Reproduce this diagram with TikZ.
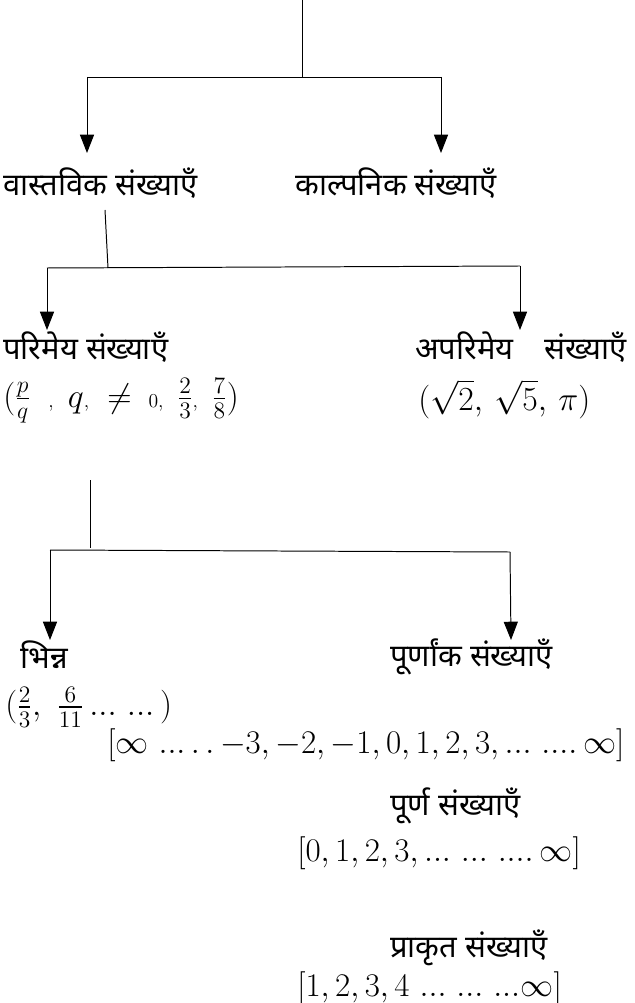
\RequirePackage{fix-cm}
\documentclass[tikz,border=0pt]{standalone}
\usepackage{amsmath}
\usepackage{fontspec}
\usetikzlibrary{arrows.meta}
\newfontfamily\hindi[Script=Devanagari]{Noto Sans}
\newcommand{\peq}[1]{{\fontsize{14}{16}\selectfont #1}}
\newcommand{\tres}{{.}{.}{.}}
\tikzset{
  rama/.style={draw=black,line width=0.7pt},
  flecha/.style={rama,-{Triangle[length=13pt,width=10pt]}},
  etiq/.style={font=\hindi\fontsize{22}{26}\selectfont,inner sep=0pt,anchor=west},
  mat/.style={font=\fontsize{23.5}{27}\selectfont,inner sep=0pt,anchor=west},
  matg/.style={mat,font=\fontsize{24}{28}\selectfont},
}
\begin{document}
\begin{tikzpicture}[x=0.025cm,y=-0.025cm]
\useasboundingbox (0,0) rectangle (635,1003);

\node[etiq] (real) at (3,183) {वास्तविक संख्याएँ};
\node[etiq] (imag) at (295,183) {काल्पनिक संख्याएँ};
\node[etiq] (rat) at (3,347) {परिमेय संख्याएँ};
\node[matg] (ratex) at (3,401)
  {$(\frac{p}{q}$\hspace{13pt}\peq{,}\hspace{10pt}$q$\peq{,}\hspace{13pt}$\neq$\hspace{12pt}\peq{0,}\hspace{10pt}$\frac{2}{3}$\peq{,}\hspace{10pt}$\frac{7}{8})$};
\node[etiq] (irr) at (415,347) {अपरिमेय\hspace{22pt}संख्याएँ};
\node[matg] (irrex) at (418,399) {$(\sqrt{2},\,\sqrt{5},\,\pi)$};
\node[etiq] (frac) at (20,655) {भिन्न};
\node[etiq] (int) at (390,657) {पूर्णांक संख्याएँ};
\node[matg] (fracex) at (5,707) {$(\frac{2}{3},\ \frac{6}{11}\,\tres\ \tres\,)$};
\node[mat] (intex) at (107,745)
  {$[\infty\ \tres\,.\,.\,{-3}, {-2}, {-1}, 0, 1, 2, 3, \tres\ \tres.\,\infty]$};
\node[etiq] (whole) at (390,806) {पूर्ण संख्याएँ};
\node[mat] (wholex) at (297,853) {$[0, 1, 2, 3, \tres\ \tres\ \tres.\,\infty]$};
\node[etiq] (nat) at (390,948) {प्राकृत संख्याएँ};
\node[mat] (natex) at (297,988) {$[1, 2, 3, 4\ \tres\ \tres\ \tres\infty]$};

\coordinate (c0) at (302,0);
\coordinate (c1) at (302,77);
\coordinate (c1l) at (87,77);
\coordinate (c1r) at (441,77);
\coordinate (a1l) at (87,153);
\coordinate (a1r) at (441,153);
\draw[rama] (c0) -- (c1);
\draw[rama] (c1l) -- (c1r);
\draw[flecha] (c1l) -- (a1l);
\draw[flecha] (c1r) -- (a1r);

\coordinate (c2t) at (105,210);
\coordinate (c2) at (108,268);
\coordinate (c2l) at (47,268);
\coordinate (c2r) at (520,266);
\coordinate (a2l) at (47,330);
\coordinate (a2r) at (520,330);
\draw[rama] (c2t) -- (c2);
\draw[rama] (c2l) -- (c2r);
\draw[flecha] (c2l) -- (a2l);
\draw[flecha] (c2r) -- (a2r);

\coordinate (c3t) at (90,480);
\coordinate (c3) at (90,548);
\coordinate (c3l) at (50,550);
\coordinate (c3r) at (510,552);
\coordinate (a3l) at (50,640);
\coordinate (a3r) at (511,640);
\draw[rama] (c3t) -- (c3);
\draw[rama] (c3l) -- (c3r);
\draw[flecha] (c3l) -- (a3l);
\draw[flecha] (c3r) -- (a3r);

\end{tikzpicture}
\end{document}
